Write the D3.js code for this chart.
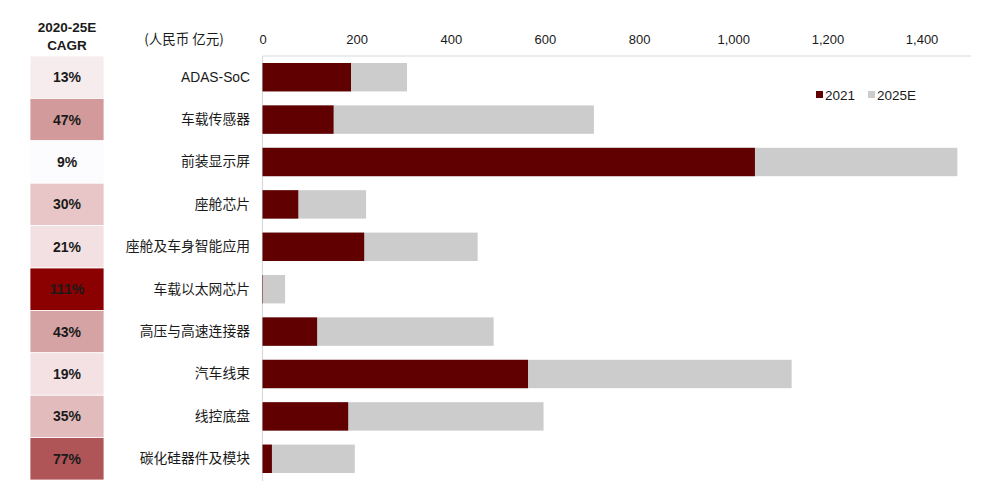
<!DOCTYPE html>
<html>
<head>
<meta charset="utf-8">
<script src="https://cdn.jsdelivr.net/npm/d3@7"></script>
<style>
  html, body { margin: 0; padding: 0; background: #fff; }
  svg { display: block; font-family: "Liberation Sans", Arial, "Noto Sans CJK SC", sans-serif; }
</style>
</head>
<body>
<svg id="chart" width="1000" height="492"></svg>
<script>
const categories = ["ADAS-SoC", "车载传感器", "前装显示屏", "座舱芯片", "座舱及车身智能应用",
                    "车载以太网芯片", "高压与高速连接器", "汽车线束", "线控底盘", "碳化硅器件及模块"];
const values2021 = [188, 151, 1046, 76, 216, 1, 116, 564, 182, 20];
const values2025E = [307, 704, 1476, 220, 457, 48, 491, 1124, 597, 196];
const cagrLabels = ["13%", "47%", "9%", "30%", "21%", "111%", "43%", "19%", "35%", "77%"];
const cagrColors = ["#f6ebed", "#d39a9b", "#fcfbfd", "#e8c6c7", "#f3e0e2", "#8b0000", "#d5a3a4", "#f3e1e4", "#e2bbbc", "#b05557"];
const tickValues = [0, 200, 400, 600, 800, 1000, 1200, 1400];
const seriesNames = ["2021", "2025E"];
const seriesColors = ["#600000", "#cccccc"];

const svg = d3.select("#chart");
const x = d3.scaleLinear().domain([0, 1505]).range([262.5, 971]);
const y = d3.scaleBand().domain(categories).range([56, 480]).paddingInner(0.33).paddingOuter(0.165);
const yRow = d3.scaleBand().domain(categories).range([56, 480]).padding(0);

// CAGR column
svg.append("text").attr("x", 67).attr("y", 32).attr("text-anchor", "middle")
  .attr("font-size", 13.5).attr("font-weight", "bold").attr("fill", "#1a1a1a").text("2020-25E");
svg.append("text").attr("x", 67).attr("y", 50).attr("text-anchor", "middle")
  .attr("font-size", 13.5).attr("font-weight", "bold").attr("fill", "#1a1a1a").text("CAGR");

const cells = svg.append("g");
cells.selectAll("rect").data(categories).join("rect")
  .attr("x", 30).attr("width", 74)
  .attr("y", d => yRow(d)).attr("height", yRow.bandwidth())
  .attr("fill", (d, i) => cagrColors[i])
  .attr("stroke", "#ffffff").attr("stroke-width", 0.8);
cells.selectAll("text").data(categories).join("text")
  .attr("x", 67).attr("y", d => yRow(d) + yRow.bandwidth() / 2)
  .attr("dy", "0.36em").attr("text-anchor", "middle")
  .attr("font-size", 14).attr("font-weight", "bold").attr("fill", "#1a1a1a")
  .text((d, i) => cagrLabels[i]);

// unit label
svg.append("text").attr("x", 184).attr("y", 43.5).attr("text-anchor", "middle")
  .attr("font-size", 13.5).attr("fill", "#1a1a1a")
  .style("font-family", "'Noto Sans CJK SC', sans-serif").text("(人民币 亿元)");

// top axis
const xAxis = d3.axisTop(x).tickValues(tickValues).tickSize(0).tickPadding(0)
  .tickFormat(d3.format(","));
const ax = svg.append("g").attr("transform", "translate(0,43.5)").call(xAxis);
ax.select(".domain").remove();
ax.selectAll("text").attr("font-size", 13).attr("fill", "#1a1a1a")
  .attr("dy", 0).style("font-family", "'Liberation Sans', Arial, sans-serif");

// axis lines
svg.append("line").attr("x1", x(0)).attr("x2", x.range()[1]).attr("y1", 56).attr("y2", 56)
  .attr("stroke", "#d9d9d9").attr("stroke-width", 1.2);
svg.append("line").attr("x1", x(0)).attr("x2", x(0)).attr("y1", 56).attr("y2", 481)
  .attr("stroke", "#d9d9d9").attr("stroke-width", 1.2);

// category labels
const yAxis = d3.axisLeft(yRow).tickSize(0).tickPadding(0);
const ay = svg.append("g").attr("transform", "translate(250,0)").call(yAxis);
ay.select(".domain").remove();
ay.selectAll("text").attr("font-size", 13.8).attr("fill", "#1a1a1a")
  .style("font-family", "'Liberation Sans', 'Noto Sans CJK SC', sans-serif");

// bars (overlapping, 2025E behind 2021)
svg.append("g").selectAll("rect").data(categories).join("rect")
  .attr("x", x(0)).attr("y", d => y(d)).attr("height", y.bandwidth())
  .attr("width", (d, i) => x(values2025E[i]) - x(0))
  .attr("fill", seriesColors[1]);
svg.append("g").selectAll("rect").data(categories).join("rect")
  .attr("x", x(0)).attr("y", d => y(d)).attr("height", y.bandwidth())
  .attr("width", (d, i) => x(values2021[i]) - x(0))
  .attr("fill", seriesColors[0]);

// legend
const legendX = [816, 868];
const lg = svg.append("g");
seriesNames.forEach((n, i) => {
  lg.append("rect").attr("x", legendX[i]).attr("y", 91).attr("width", 7).attr("height", 7)
    .attr("fill", seriesColors[i]);
  lg.append("text").attr("x", legendX[i] + 9).attr("y", 99.5)
    .attr("font-size", 13.5).attr("fill", "#1a1a1a").text(n);
});
</script>
</body>
</html>
